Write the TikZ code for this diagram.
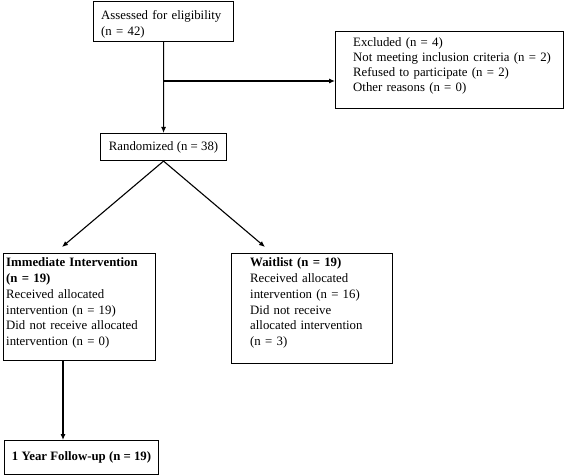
\documentclass[tikz,border=0pt]{standalone}
\usepackage{fontspec}
\setmainfont{Liberation Serif}
\usetikzlibrary{arrows.meta}
\begin{document}
\begin{tikzpicture}[x=1bp,y=-1bp,
  boxnode/.style={draw=black, line width=1.1bp, anchor=north west, inner sep=0pt},
  txt/.style={anchor=base west, inner sep=0pt, align=left, text width=#1,
    font=\fontsize{12.8bp}{15.7bp}\selectfont},
  arr/.style={line width=1.1bp, -{Latex[length=6bp,width=5bp]}}]
\useasboundingbox (0,0) rectangle (567,476);
% boxes
\node[boxnode, minimum width=140bp, minimum height=40bp] (A) at (93,1) {};
\node[boxnode, minimum width=228bp, minimum height=77bp] (E) at (335,31) {};
\node[boxnode, minimum width=126bp, minimum height=27bp] (R) at (100,133) {};
\node[boxnode, minimum width=152bp, minimum height=107bp] (I) at (3,253) {};
\node[boxnode, minimum width=161bp, minimum height=110bp] (W) at (231,253) {};
\node[boxnode, minimum width=154bp, minimum height=34bp] (F) at (4,440) {};
% texts
\node[txt=135bp, font=\fontsize{12.8bp}{16bp}\selectfont] (At) at (101,20) {Assessed for eligibility\\(n = 42)};
\node[txt=210bp, font=\fontsize{12.8bp}{15bp}\selectfont] (Et) at (353,47) {Excluded (n = 4)\\Not meeting inclusion criteria (n = 2)\\Refused to participate (n = 2)\\Other reasons (n = 0)};
\node[inner sep=0pt, font=\fontsize{12.8bp}{15bp}\selectfont] (Rt) at (R.center) {Randomized (n = 38)};
\node[txt=150bp] (It) at (6,267) {\textbf{Immediate Intervention}\\\textbf{(n = 19)}\\Received allocated\\intervention (n = 19)\\Did not receive allocated\\intervention (n = 0)};
\node[txt=140bp] (Wt) at (250,267) {\textbf{Waitlist (n = 19)}\\Received allocated\\intervention (n = 16)\\Did not receive\\allocated intervention\\(n = 3)};
\node[inner sep=0pt, font=\bfseries\fontsize{12.8bp}{15bp}\selectfont] (Ft) at (F.center) {1 Year Follow-up (n = 19)};
% connectors
\coordinate (j) at (163,81);
\coordinate (ti) at (62,247);
\coordinate (tw) at (265,247);
\coordinate (fx) at (63,0);
\draw[arr] (A.south) -- (R.north);
\draw[arr] (j) -- (j -| E.west);
\draw[arr] (R.south) -- (ti);
\draw[arr] (R.south) -- (tw);
\draw[arr] (fx |- I.south) -- (fx |- F.north);
\end{tikzpicture}
\end{document}
